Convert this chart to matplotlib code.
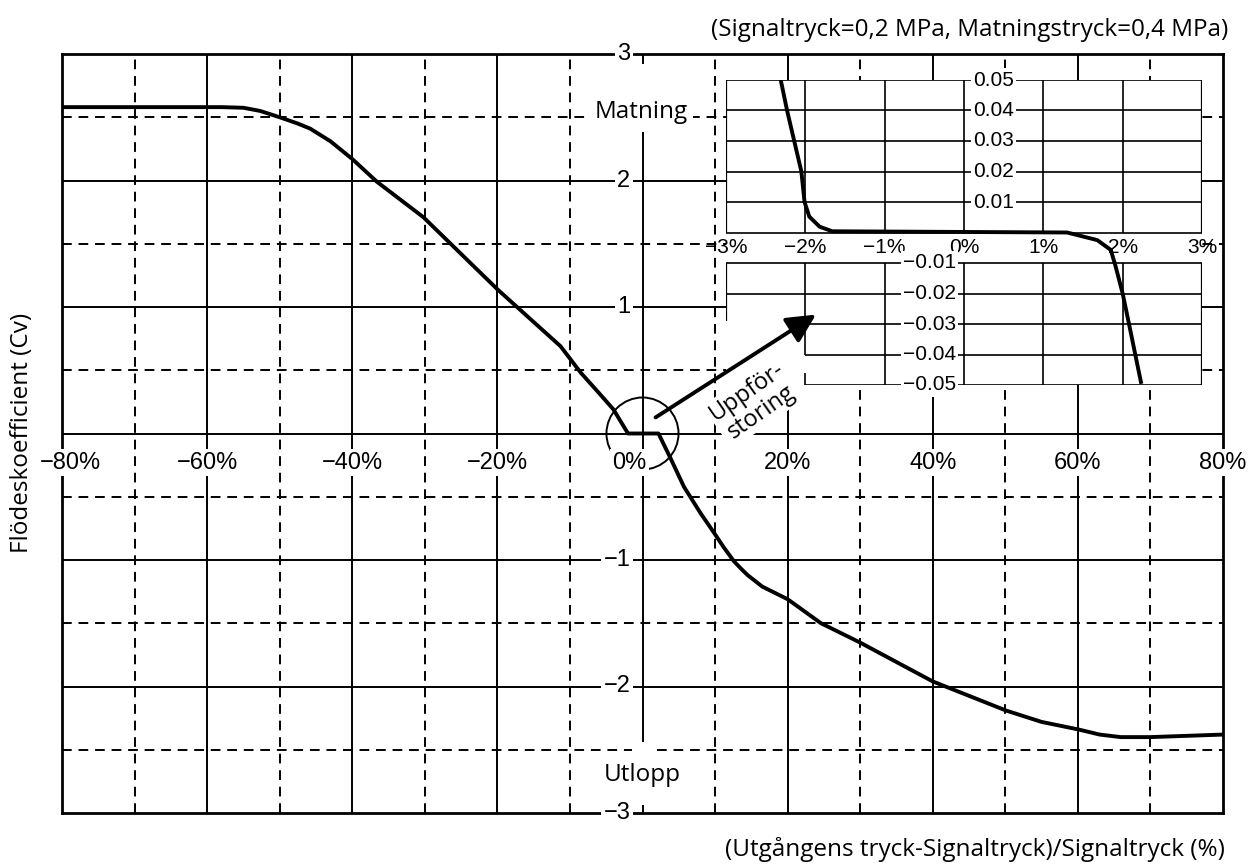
import matplotlib.pyplot as plt
from matplotlib.patches import Ellipse, FancyArrowPatch, Rectangle

# huvudkurva: flödeskoefficient (Cv) mot (utgångens tryck - signaltryck)/signaltryck
tryck = [-80, -58, -55, -52.7, -50, -47.5, -45.8, -43, -40, -36.6, -30.2,
         -20, -11.3, -8.5, -6, -4.0, -2.0, 2.2, 3.9, 5.7, 8, 9.8, 11.2, 12.6,
         13.6, 14.5, 16.5, 20, 24.6, 29.9, 40, 50.1, 55, 60.1, 63, 65.9, 70, 80]
cv = [2.58, 2.58, 2.575, 2.55, 2.50, 2.45, 2.41, 2.31, 2.17, 1.99, 1.71,
      1.14, 0.69, 0.48, 0.32, 0.19, 0.0, 0.0, -0.2, -0.42, -0.63, -0.78,
      -0.90, -1.01, -1.07, -1.12, -1.21, -1.31, -1.50, -1.65, -1.96, -2.19,
      -2.28, -2.34, -2.38, -2.40, -2.40, -2.38]

# förstoring kring 0 %
tryck_zoom = [-2.31, -2.23, -2.14, -2.05, -2.01, -1.95, -1.82, -1.66, 1.30,
              1.68, 1.85, 1.91, 2.00, 2.08, 2.23]
cv_zoom = [0.05, 0.04, 0.03, 0.02, 0.01, 0.0052, 0.0019, 0.0004, 0.0,
           -0.0025, -0.0057, -0.011, -0.020, -0.030, -0.049]

x_solid = [-60, -40, -20, 0, 20, 40, 60]
x_dash = [-70, -50, -30, -10, 10, 30, 50, 70]
y_solid = [-2, -1, 0, 1, 2]
y_dash = [-2.5, -1.5, -0.5, 0.5, 1.5, 2.5]
x_ticks = [-80, -60, -40, -20, 0, 20, 40, 60, 80]
y_ticks = [3, 2, 1, -1, -2, -3]
zx_ticks = [-3, -2, -1, 0, 1, 2, 3]
zy_ticks = [0.05, 0.04, 0.03, 0.02, 0.01, -0.01, -0.02, -0.03, -0.04, -0.05]

W, H = 1251, 865
TICKFONT = 'Liberation Sans'
TEXTFONT = 'Open Sans'
DASH = (0, (5, 3.5))
white = dict(facecolor='white', edgecolor='none', boxstyle='square,pad=0.1')


def minus(s):
    return s.replace('-', '\u2212')


fig = plt.figure(figsize=(W / 100, H / 100), dpi=100)
ax = fig.add_axes([62 / W, 1 - 813 / H, (1223 - 62) / W, (813 - 54) / H])
ax.set_xlim(-80, 80)
ax.set_ylim(-3, 3)
ax.set_xticks([])
ax.set_yticks([])
for s in ax.spines.values():
    s.set_linewidth(2)

# rutnät
for x in x_solid:
    ax.axvline(x, color='k', lw=1.4, zorder=1)
for x in x_dash:
    ax.axvline(x, color='k', lw=1.4, ls=DASH, zorder=1)
for y in y_solid:
    ax.axhline(y, color='k', lw=1.4, zorder=1)
for y in y_dash:
    ax.axhline(y, color='k', lw=1.4, ls=DASH, zorder=1)

ax.plot(tryck, cv, color='k', lw=2.8, zorder=4, solid_joinstyle='round')

# skaltext direkt i diagrammet
x_off = {-80: 1.2, 0: -1.8}
for x in x_ticks:
    ax.text(x + x_off.get(x, 0), -0.23, minus(f'{x}%'), ha='center', va='center',
            fontsize=17, family=TICKFONT, bbox=white, zorder=3)
for y in y_ticks:
    ax.text(-1.66, y, minus(f'{y}'), ha='right', va='center',
            fontsize=17, family=TICKFONT, bbox=white, zorder=3)

# luckor i 0%-linjen vid Matning/Utlopp
ax.add_patch(Rectangle((-1.5, 2.38), 3, 0.54, facecolor='white', edgecolor='none', zorder=2))
ax.add_patch(Rectangle((-1.5, -2.94), 3, 0.5, facecolor='white', edgecolor='none', zorder=2))

box = dict(facecolor='white', edgecolor='none', boxstyle='square,pad=0.2')
ax.text(-0.14, 2.54, 'Matning', ha='center', va='center', fontsize=17.5,
        family=TEXTFONT, bbox=box, zorder=3)
ax.text(0, -2.70, 'Utlopp', ha='center', va='center', fontsize=17.5,
        family=TEXTFONT, bbox=box, zorder=3)

ax.add_patch(Ellipse((0, 0), 2 * 36 / 145 * 20, 2 * 36 / 126.5, fill=False,
                     edgecolor='k', lw=1.4, zorder=2))

# förstoringsruta
axz = fig.add_axes([726 / W, 1 - 385 / H, 476 / W, 305 / H], zorder=3)
axz.set_facecolor('white')
axz.set_xlim(-3, 3)
axz.set_ylim(-0.05, 0.05)
axz.set_xticks([])
axz.set_yticks([])
for s in axz.spines.values():
    s.set_visible(False)
for y in zy_ticks + [0]:
    x0 = -2 if y < -0.025 else -3
    axz.hlines(y, x0, 3, color='k', lw=1.2, zorder=1)
for x in zx_ticks:
    lw = 1.6 if abs(x) == 3 else 1.2
    axz.vlines(x, 0, 0.05, color='k', lw=lw, zorder=1)
    if x == -3:
        axz.vlines(x, -0.029, -0.01, color='k', lw=lw, zorder=1)
    elif x == -2:
        axz.vlines(x, -0.04, -0.01, color='k', lw=lw, zorder=1)
        axz.vlines(x, -0.05, -0.046, color='k', lw=lw, zorder=1)
    else:
        axz.vlines(x, -0.05, -0.01, color='k', lw=lw, zorder=1)

axz.plot(tryck_zoom, cv_zoom, color='k', lw=2.8, zorder=4, solid_joinstyle='round')

for x in zx_ticks:
    axz.text(x, -0.005, minus(f'{x}%'), ha='center', va='center',
             fontsize=15, family=TICKFONT, zorder=3)
for y in zy_ticks:
    if y > 0:
        axz.text(0.11, y, f'{y:.2f}', ha='left', va='center', fontsize=15,
                 family=TICKFONT, bbox=white, zorder=3, clip_on=False)
    else:
        axz.text(-0.1, y, minus(f'{y:.2f}'), ha='right', va='center', fontsize=15,
                 family=TICKFONT, bbox=white, zorder=3, clip_on=False)

# pil och text ovanpå förstoringsrutan
arrow = FancyArrowPatch((1.8, 0.127), (23.9, 0.94), transform=ax.transData,
                        arrowstyle='-|>,head_length=0.5,head_width=0.25',
                        mutation_scale=35, lw=2.8, color='k',
                        shrinkA=0, shrinkB=0, zorder=6)
fig.add_artist(arrow)
fig.text(15.4, 0.25, 'Uppför-\nstoring', transform=ax.transData, ha='center',
         va='center', rotation=35, multialignment='center', linespacing=1.0,
         fontsize=17, family=TEXTFONT, bbox=white, zorder=6)

fig.text(1228 / W, 1 - 30 / H, '(Signaltryck=0,2 MPa, Matningstryck=0,4 MPa)',
         ha='right', va='center', fontsize=17.5, family=TEXTFONT)
fig.text(1225 / W, 1 - 850 / H, '(Utgångens tryck-Signaltryck)/Signaltryck (%)',
         ha='right', va='center', fontsize=17.5, family=TEXTFONT)
fig.text(22 / W, 1 - 433 / H, 'Flödeskoefficient (Cv)', rotation=90,
         ha='center', va='center', fontsize=17.5, family=TEXTFONT)

fig.savefig('out.png', dpi=100)
